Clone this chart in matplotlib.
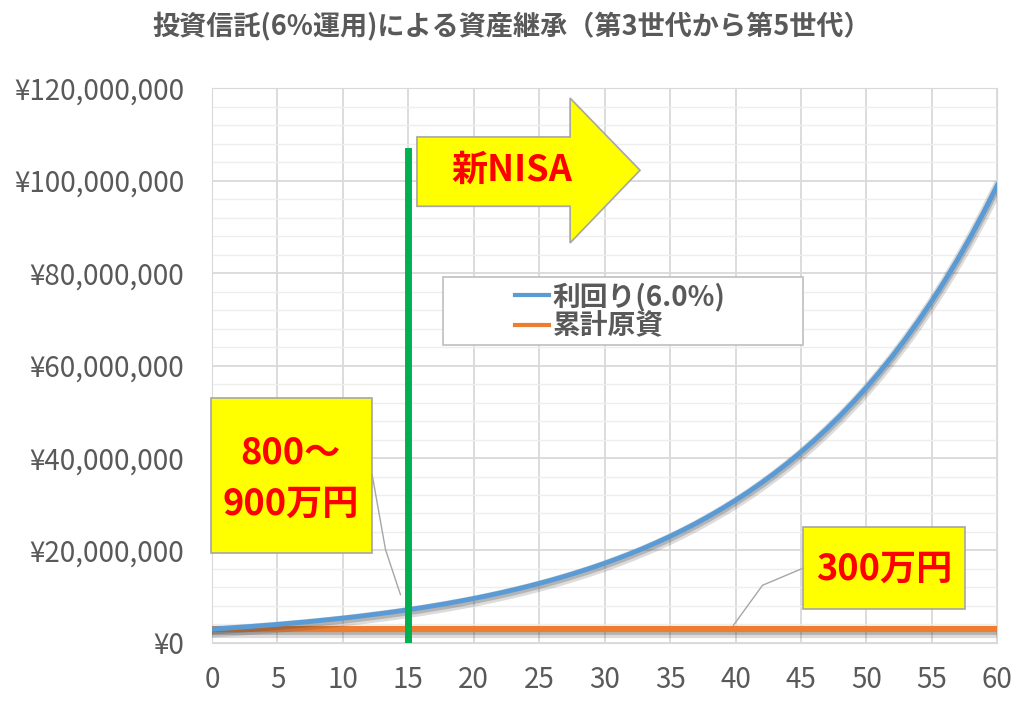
import matplotlib
matplotlib.use("Agg")
import matplotlib.pyplot as plt
import matplotlib.patheffects as pe
from matplotlib.patches import Polygon, Rectangle
from matplotlib.lines import Line2D
from matplotlib.ticker import FuncFormatter, MultipleLocator

plt.rcParams['font.family'] = ['Noto Sans CJK JP', 'DejaVu Sans']

# data (millions of yen)
years = list(range(0, 61))
growth = [3.00, 3.18, 3.37, 3.57, 3.79, 4.01, 4.26, 4.51, 4.78, 5.07,
          5.37, 5.69, 6.04, 6.40, 6.78, 7.19, 7.62, 8.08, 8.56, 9.08,
          9.62, 10.20, 10.81, 11.46, 12.15, 12.88, 13.65, 14.47, 15.34, 16.26,
          17.23, 18.27, 19.36, 20.52, 21.76, 23.06, 24.45, 25.91, 27.47, 29.12,
          30.86, 32.71, 34.68, 36.76, 38.96, 41.30, 43.78, 46.41, 49.19, 52.14,
          55.27, 58.59, 62.10, 65.83, 69.78, 73.97, 78.40, 83.11, 88.09, 93.38,
          98.98]
principal = [3.0] * len(years)
nisa_year = 15
nisa_top = 106.5

title = "投資信託(6%運用)による資産継承（第3世代から第5世代）"
labels = ["利回り(6.0%)", "累計原資"]

gray = "#595959"
blue = "#5B9BD5"
orange = "#ED7D31"
green = "#00B050"

fig = plt.figure(figsize=(10.24, 7.05), dpi=100)
ax = fig.add_axes([0.207, 0.088, 0.767, 0.787])

# soft drop shadow like the spreadsheet original
shadow = [pe.SimpleLineShadow(offset=(0, -2), shadow_color="#404040", alpha=0.18, linewidth=8),
          pe.SimpleLineShadow(offset=(0, -1.5), shadow_color="#404040", alpha=0.25, linewidth=5),
          pe.Normal()]
y_blue = [v * 1e6 for v in growth]
y_org = [v * 1e6 for v in principal]
ax.plot(years, y_org, color=orange, lw=4.5, path_effects=shadow, zorder=3)
ax.plot(years, y_blue, color=blue, lw=3.5, path_effects=shadow, zorder=4)
ax.plot([nisa_year, nisa_year], [0, nisa_top * 1e6], color=green, lw=5, zorder=5)

ax.set_xlim(0, 60)
ax.set_ylim(0, 120e6)
ax.xaxis.set_major_locator(MultipleLocator(5))
ax.yaxis.set_major_locator(MultipleLocator(20e6))
ax.yaxis.set_minor_locator(MultipleLocator(4e6))
ax.yaxis.set_major_formatter(FuncFormatter(lambda v, p: "¥{:,.0f}".format(v)))
ax.grid(True, which="major", color="#D9D9D9", lw=1.3)
ax.grid(True, which="minor", axis="y", color="#EEEEEE", lw=1.0)
ax.set_axisbelow(True)
for s in ax.spines.values():
    s.set_color("#D9D9D9")
ax.tick_params(axis="both", which="both", length=0, colors=gray, labelsize=20)
ax.tick_params(axis="y", pad=20)
ax.tick_params(axis="x", pad=16)

fig.text(0.5, 0.962, title, ha="center", va="center", fontsize=19.5,
         fontweight="bold", color=gray)

# 新NISA arrow
tr = ax.transAxes
arrow = Polygon([(0.261, 0.787), (0.456, 0.787), (0.456, 0.721), (0.545, 0.852),
                 (0.456, 0.982), (0.456, 0.912), (0.261, 0.912)],
                closed=True, transform=tr, facecolor="#FFFF00",
                edgecolor="#A6A6A6", lw=1.2, zorder=6, clip_on=False)
ax.add_patch(arrow)
ax.text(0.382, 0.852, "新NISA", transform=tr, ha="center", va="center",
        fontsize=26, fontweight="bold", color="#FF0000", zorder=7)

# legend box
ax.add_patch(Rectangle((0.294, 0.537), 0.459, 0.122, transform=tr,
                       facecolor="white", edgecolor="#BFBFBF", lw=1.2, zorder=6))
handles = [Line2D([], [], color=blue, lw=3), Line2D([], [], color=orange, lw=3)]
leg = ax.legend(handles, labels, loc="center left", bbox_to_anchor=(0.372, 0.598),
                frameon=False, fontsize=20, handlelength=1.2, handletextpad=0.15,
                labelspacing=0.05, borderaxespad=0)
leg.set_zorder(7)
for t in leg.get_texts():
    t.set_color(gray)
    t.set_fontweight("bold")

# callout boxes
ax.add_patch(Rectangle((-0.001, 0.162), 0.205, 0.279, transform=tr,
                       facecolor="#FFFF00", edgecolor="#A6A6A6", lw=1.2,
                       zorder=6, clip_on=False))
ax.text(0.1, 0.343, "800～", transform=tr, ha="center", va="center",
        fontsize=26, fontweight="bold", color="#FF0000", zorder=7)
ax.text(0.1, 0.25, "900万円", transform=tr, ha="center", va="center",
        fontsize=26, fontweight="bold", color="#FF0000", zorder=7)
ax.plot([0.204, 0.221, 0.240], [0.303, 0.168, 0.087], transform=tr,
        color="#A6A6A6", lw=1, zorder=6)

ax.add_patch(Rectangle((0.753, 0.061), 0.206, 0.148, transform=tr,
                       facecolor="#FFFF00", edgecolor="#A6A6A6", lw=1.2,
                       zorder=6, clip_on=False))
ax.text(0.856, 0.132, "300万円", transform=tr, ha="center", va="center",
        fontsize=26, fontweight="bold", color="#FF0000", zorder=7)
ax.plot([0.753, 0.701, 0.664], [0.135, 0.104, 0.032], transform=tr,
        color="#A6A6A6", lw=1, zorder=6)

fig.savefig("out.png", dpi=100)
